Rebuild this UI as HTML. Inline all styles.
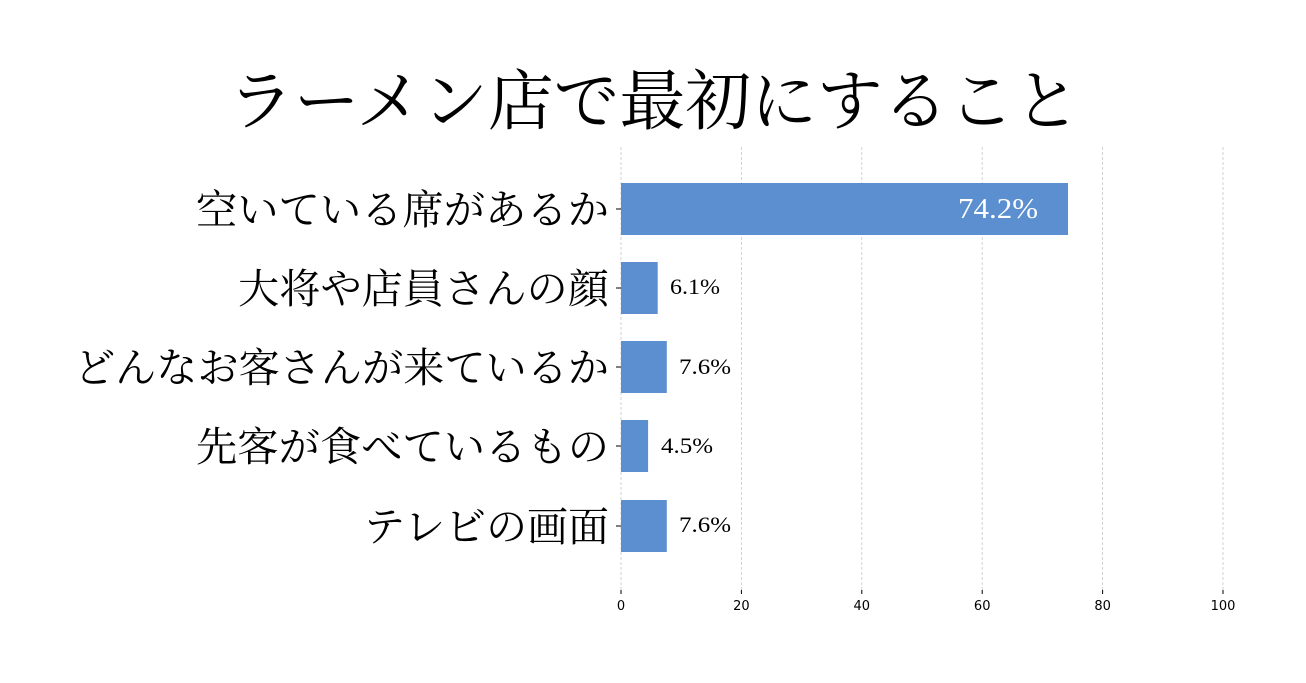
<!DOCTYPE html>
<html><head><meta charset="utf-8"><style>
html,body{margin:0;padding:0;background:#fff;}
svg{display:block;}
.s{font-family:"Liberation Serif","Noto Serif CJK SC",serif;}
.t{font-family:"DejaVu Sans",sans-serif;font-size:13px;fill:#000;}
</style></head><body>
<svg width="1306" height="683" viewBox="0 0 1306 683" xmlns="http://www.w3.org/2000/svg">
<rect width="1306" height="683" fill="#fff"/>
<g stroke="#c8c8c8" stroke-width="0.8" stroke-dasharray="3,2">
<line x1="621" y1="147" x2="621" y2="590"/>
<line x1="741.4" y1="147" x2="741.4" y2="590"/>
<line x1="861.8" y1="147" x2="861.8" y2="590"/>
<line x1="982.2" y1="147" x2="982.2" y2="590"/>
<line x1="1102.6" y1="147" x2="1102.6" y2="590"/>
<line x1="1223" y1="147" x2="1223" y2="590"/>
</g>
<g fill="#5b8fd0">
<rect x="621" y="183" width="447" height="52"/>
<rect x="621" y="262" width="36.7" height="52"/>
<rect x="621" y="341" width="45.8" height="52"/>
<rect x="621" y="420" width="27.1" height="52"/>
<rect x="621" y="500" width="45.8" height="52"/>
</g>
<g stroke="#000" stroke-width="1">
<line x1="616" y1="209" x2="621" y2="209"/>
<line x1="616" y1="288" x2="621" y2="288"/>
<line x1="616" y1="367" x2="621" y2="367"/>
<line x1="616" y1="446" x2="621" y2="446"/>
<line x1="616" y1="526" x2="621" y2="526"/>
<line x1="621" y1="590" x2="621" y2="594"/>
<line x1="741.4" y1="590" x2="741.4" y2="594"/>
<line x1="861.8" y1="590" x2="861.8" y2="594"/>
<line x1="982.2" y1="590" x2="982.2" y2="594"/>
<line x1="1102.6" y1="590" x2="1102.6" y2="594"/>
<line x1="1223" y1="590" x2="1223" y2="594"/>
</g>
<g class="t" text-anchor="middle">
<text x="621" y="610">0</text>
<text x="741.4" y="610">20</text>
<text x="861.8" y="610">40</text>
<text x="982.2" y="610">60</text>
<text x="1102.6" y="610">80</text>
<text x="1223" y="610">100</text>
</g>
<text class="s" x="228" y="124" font-size="66" textLength="852" lengthAdjust="spacingAndGlyphs">ラーメン店で最初にすること</text>
<g class="s" font-size="41" fill="#000">
<text x="196" y="224" textLength="413" lengthAdjust="spacingAndGlyphs">空いている席があるか</text>
<text x="238" y="303" textLength="371" lengthAdjust="spacingAndGlyphs">大将や店員さんの顔</text>
<text x="74" y="382" textLength="535" lengthAdjust="spacingAndGlyphs">どんなお客さんが来ているか</text>
<text x="196" y="461" textLength="413" lengthAdjust="spacingAndGlyphs">先客が食べているもの</text>
<text x="364" y="541" textLength="245" lengthAdjust="spacingAndGlyphs">テレビの画面</text>
</g>
<text class="s" x="958" y="218" font-size="29" fill="#fff" textLength="80" lengthAdjust="spacingAndGlyphs">74.2%</text>
<g class="s" font-size="22" fill="#000">
<text x="670" y="294" textLength="50" lengthAdjust="spacingAndGlyphs">6.1%</text>
<text x="679" y="374" textLength="52" lengthAdjust="spacingAndGlyphs">7.6%</text>
<text x="661" y="453" textLength="52" lengthAdjust="spacingAndGlyphs">4.5%</text>
<text x="679" y="532" textLength="52" lengthAdjust="spacingAndGlyphs">7.6%</text>
</g>
</svg>
</body></html>
